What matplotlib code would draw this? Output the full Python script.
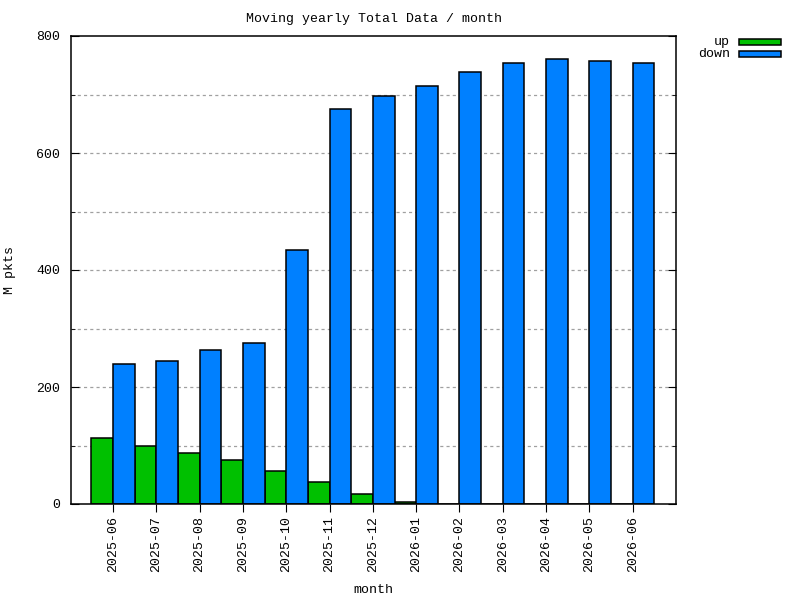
import matplotlib
matplotlib.use("Agg")
import matplotlib.pyplot as plt
from matplotlib.patches import Rectangle
from matplotlib.ticker import MultipleLocator
import numpy as np

plt.rcParams['font.family'] = ['Liberation Mono', 'DejaVu Sans Mono']
plt.rcParams['font.size'] = 9.5

months = ['2025-06', '2025-07', '2025-08', '2025-09', '2025-10', '2025-11', '2025-12',
          '2026-01', '2026-02', '2026-03', '2026-04', '2026-05', '2026-06']
up = [112, 99, 87, 75, 56, 37, 17, 3, 0, 0, 0, 0, 0]
down = [239, 244, 263, 275, 435, 675, 697, 714, 738, 753, 760, 758, 753]

green = '#00c000'
blue = '#0080ff'

fig = plt.figure(figsize=(8, 6), dpi=100)
ax = fig.add_axes([71/800, 96/600, 605/800, 468/600])

x = np.arange(len(months))
w = 0.5
ax.bar(x - w/2, up, width=w, color=green, edgecolor='black', linewidth=1.1, zorder=3)
ax.bar(x + w/2, down, width=w, color=blue, edgecolor='black', linewidth=1.1, zorder=3)

ax.set_xlim(-0.97, 13.0)
ax.set_ylim(0, 800)
ax.set_xticks(x)
ax.set_xticklabels(months, rotation=90)
ax.yaxis.set_major_locator(MultipleLocator(200))
ax.yaxis.set_minor_locator(MultipleLocator(100))
ax.tick_params(axis='y', which='both', direction='in', left=True, right=True, pad=8)
ax.tick_params(axis='y', which='major', length=6)
ax.tick_params(axis='y', which='minor', length=3)
ax.tick_params(axis='x', direction='out', length=6, pad=3, top=False)

# dotted grid only between the frame edges
for gy in range(100, 800, 100):
    ax.axhline(gy, color='#a0a0a0', linestyle=(0, (2.5, 2.5)), linewidth=0.9, zorder=0)
for s in ax.spines.values():
    s.set_linewidth(1.1)
    s.set_zorder(4)

ax.set_title('Moving yearly Total Data / month', fontsize=9.5, pad=10)
ax.set_xlabel('month', labelpad=8)
ax.set_ylabel('M pkts', labelpad=14)

# legend, gnuplot style: label right-aligned, swatch to the right
labels = ['up', 'down']
colors = [green, blue]
for i, (lab, col) in enumerate(zip(labels, colors)):
    yc = 1 - (42 + 12 * i) / 600
    fig.text(730/800, yc, lab, ha='right', va='center')
    fig.patches.append(Rectangle((739/800, yc - 3/600), 42/800, 6/600,
                                 transform=fig.transFigure, facecolor=col,
                                 edgecolor='black', linewidth=1.1))

fig.savefig('out.png', dpi=100)
